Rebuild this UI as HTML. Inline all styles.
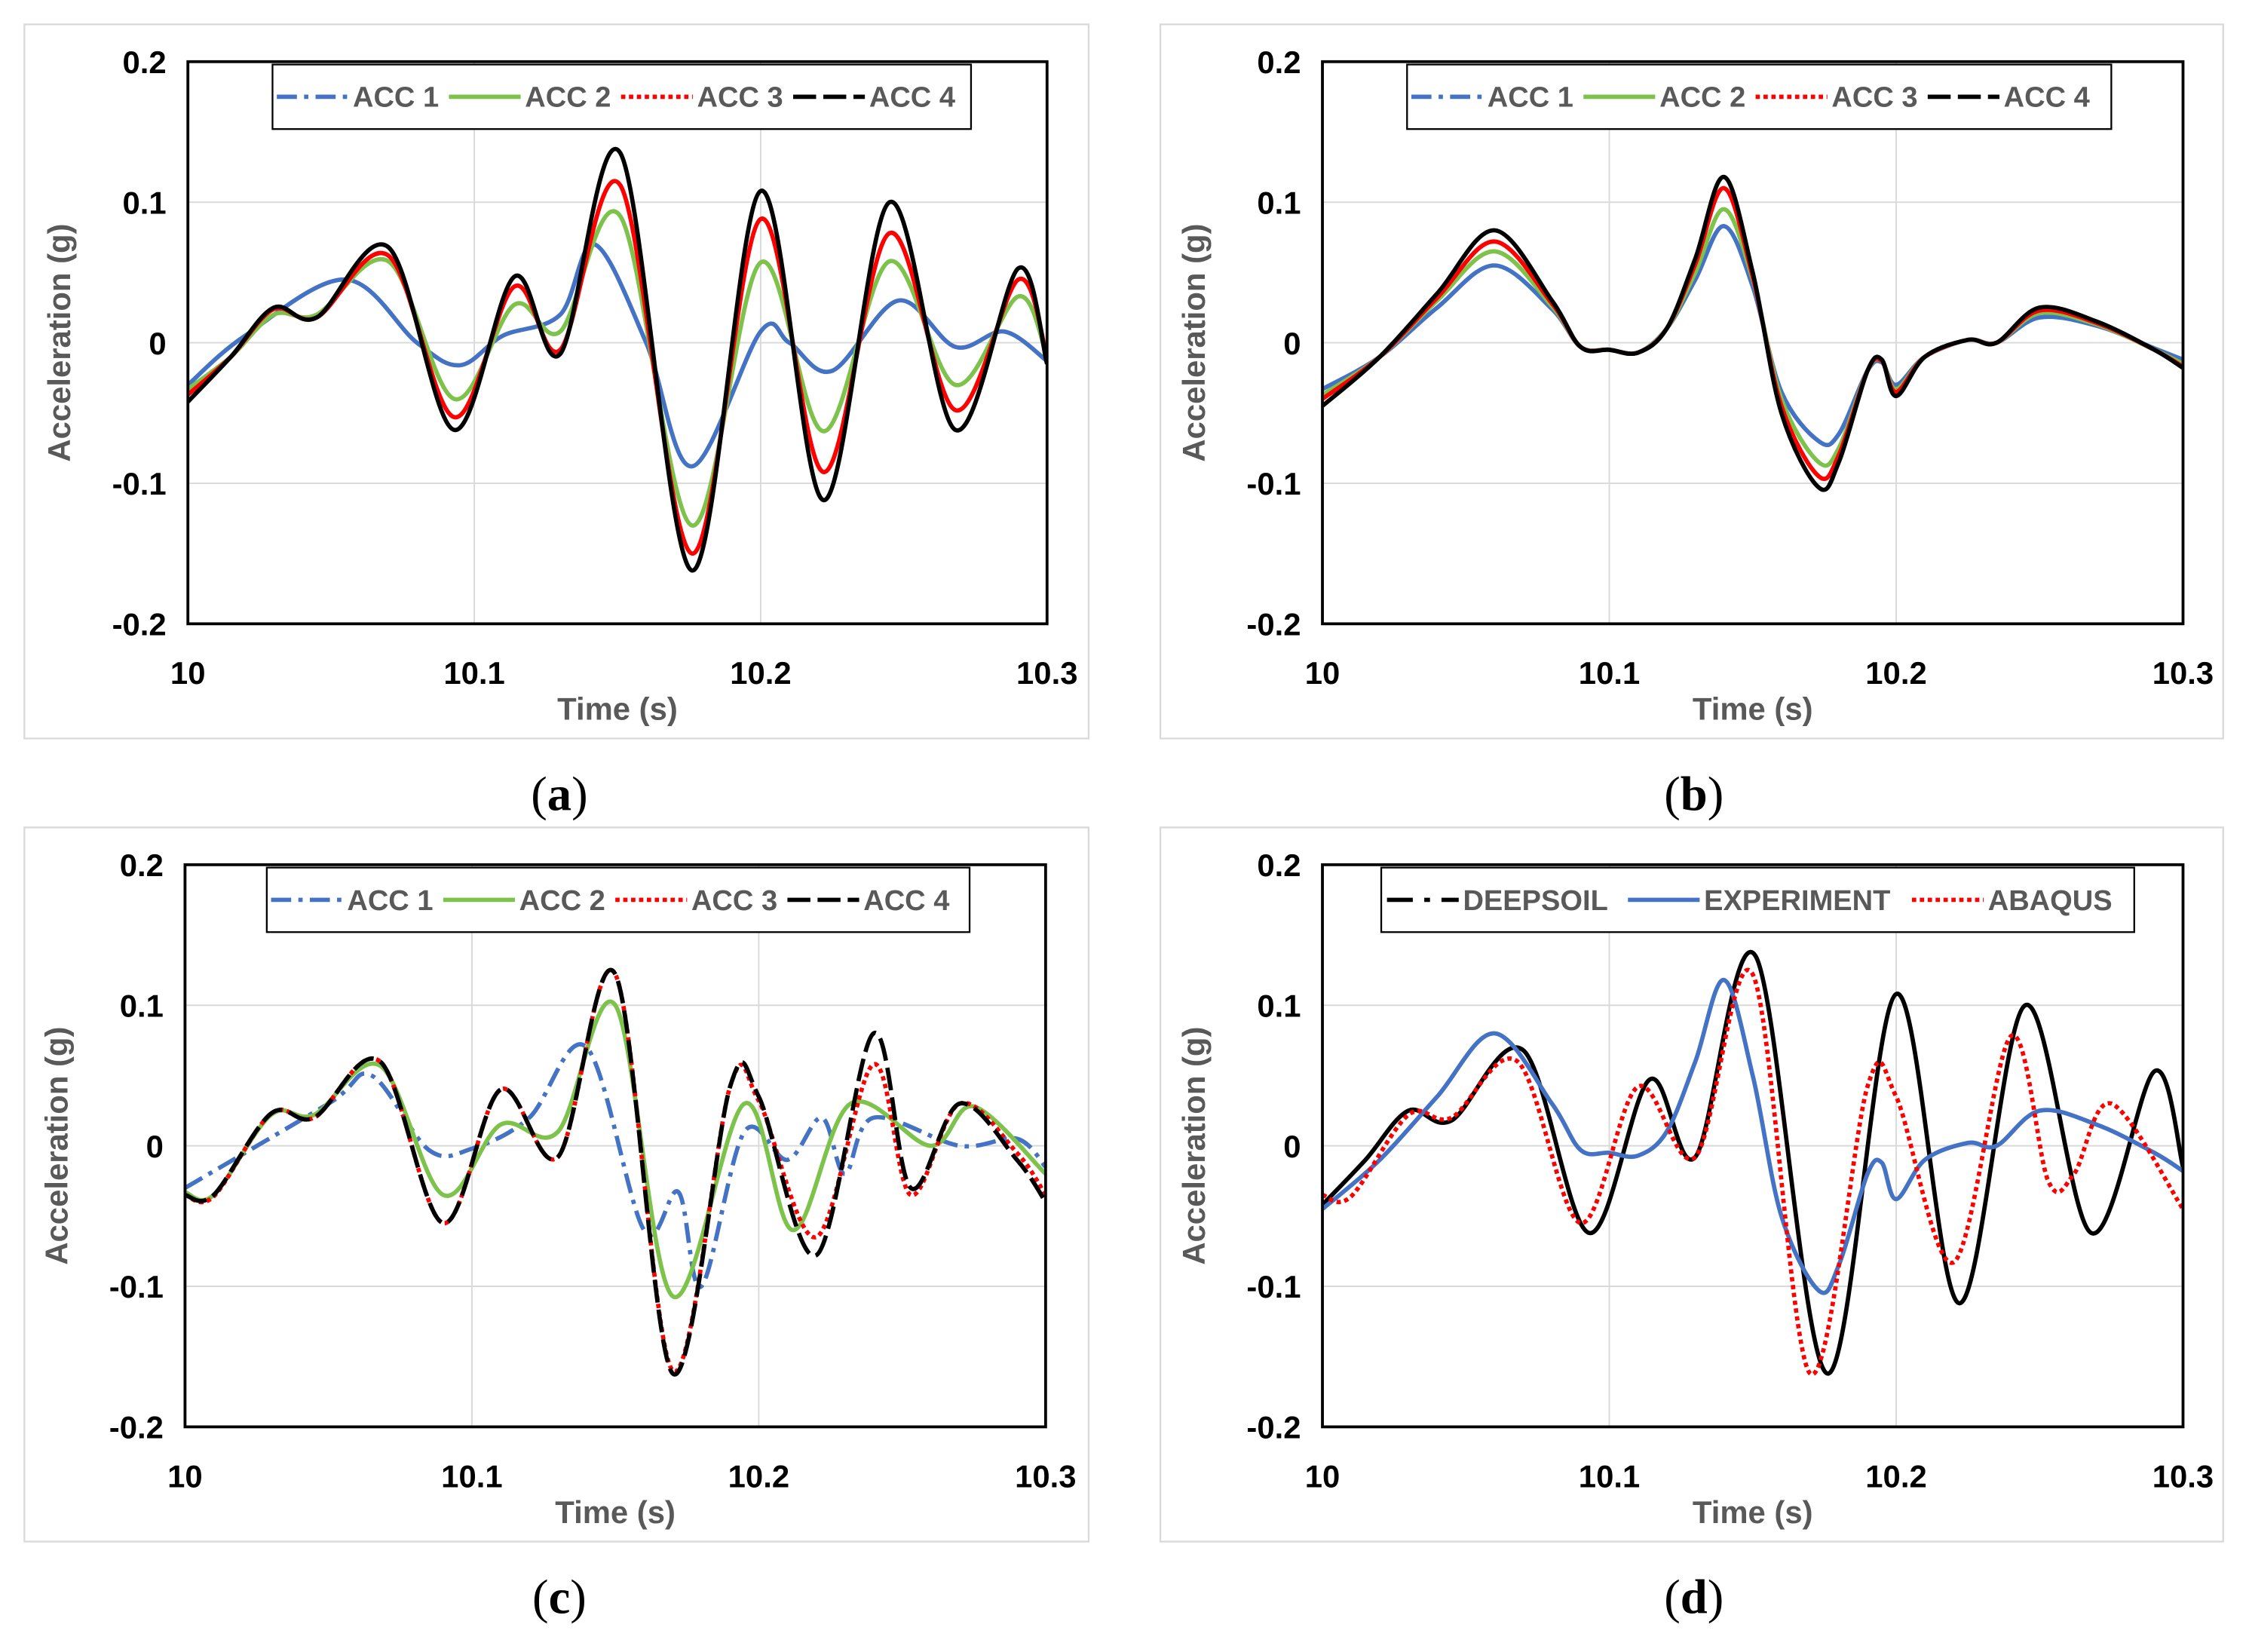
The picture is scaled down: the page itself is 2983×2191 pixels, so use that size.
<!DOCTYPE html>
<html><head><meta charset="utf-8">
<style>html,body{margin:0;padding:0;background:#fff}svg{display:block}</style></head>
<body>
<svg id="fig" width="2983" height="2191" viewBox="0 0 1568 1152" preserveAspectRatio="none" xmlns="http://www.w3.org/2000/svg" font-family="Liberation Sans, sans-serif"></svg>
<script>
// ---- data (times in s, acceleration in g) ----
const aT4=[10,10.015,10.03,10.045,10.07,10.093,10.114,10.13,10.151,10.176,10.2,10.222,10.245,10.268,10.29,10.3];
const aV4=[-0.042,-0.01,0.025,0.018,0.068,-0.062,0.047,-0.008,0.135,-0.162,0.108,-0.112,0.1,-0.062,0.053,-0.015];
const aV3=[-0.037,-0.01,0.024,0.018,0.062,-0.053,0.04,-0.005,0.112,-0.15,0.088,-0.092,0.078,-0.048,0.045,-0.01];
const aV2=[-0.033,-0.01,0.02,0.02,0.058,-0.04,0.027,0.008,0.09,-0.13,0.057,-0.063,0.058,-0.03,0.033,-0.01];
const aT1=[10,10.02,10.055,10.08,10.095,10.11,10.13,10.142,10.16,10.176,10.2,10.21,10.225,10.248,10.268,10.285,10.3];
const aV1=[-0.03,0.005,0.045,0.0,-0.016,0.005,0.02,0.07,0.0,-0.088,0.008,0.0,-0.02,0.03,-0.003,0.008,-0.013];

const bT=[10,10.02,10.04,10.06,10.08,10.09,10.1,10.11,10.12,10.13,10.14,10.15,10.16,10.173,10.18,10.19,10.195,10.2,10.21,10.225,10.235,10.25,10.27,10.29,10.3];
const bV4=[-0.045,-0.01,0.035,0.08,0.03,-0.003,-0.005,-0.007,0.01,0.06,0.118,0.05,-0.05,-0.103,-0.085,-0.02,-0.012,-0.038,-0.01,0.002,0.0,0.025,0.015,-0.005,-0.018];
const bV3=[-0.04,-0.01,0.032,0.072,0.028,-0.003,-0.005,-0.007,0.01,0.056,0.11,0.047,-0.045,-0.095,-0.08,-0.02,-0.013,-0.035,-0.01,0.002,0.0,0.023,0.014,-0.005,-0.017];
const bV2=[-0.037,-0.01,0.03,0.065,0.026,-0.003,-0.005,-0.007,0.01,0.05,0.095,0.045,-0.04,-0.085,-0.075,-0.02,-0.013,-0.033,-0.01,0.002,0.0,0.021,0.013,-0.005,-0.015];
const bV1=[-0.033,-0.01,0.025,0.055,0.024,-0.003,-0.005,-0.007,0.01,0.045,0.083,0.04,-0.035,-0.07,-0.065,-0.02,-0.014,-0.03,-0.01,0.002,0.0,0.018,0.012,-0.004,-0.012];

const cT4=[10,10.01,10.03,10.045,10.068,10.09,10.11,10.13,10.15,10.17,10.19,10.2,10.22,10.24,10.253,10.27,10.29,10.3];
const cV4=[-0.035,-0.035,0.023,0.02,0.06,-0.055,0.04,-0.008,0.122,-0.162,0.042,0.035,-0.078,0.08,-0.03,0.03,-0.01,-0.04];
const cV3=[-0.035,-0.036,0.023,0.02,0.06,-0.055,0.04,-0.008,0.122,-0.16,0.042,0.032,-0.065,0.058,-0.035,0.03,-0.005,-0.035];
const cT2=[10,10.01,10.03,10.045,10.068,10.09,10.11,10.13,10.15,10.17,10.195,10.212,10.232,10.26,10.275,10.3];
const cV2=[-0.033,-0.035,0.022,0.022,0.057,-0.035,0.015,0.01,0.1,-0.107,0.03,-0.06,0.03,0.0,0.028,-0.02];
const cT1=[10,10.05,10.065,10.085,10.1,10.12,10.14,10.16,10.172,10.18,10.195,10.21,10.222,10.23,10.24,10.27,10.29,10.3];
const cV1=[-0.03,0.03,0.05,-0.003,-0.002,0.02,0.07,-0.06,-0.033,-0.1,0.01,-0.01,0.02,-0.02,0.02,0.0,0.005,-0.015];

const dTa=[10,10.01,10.03,10.045,10.068,10.09,10.11,10.13,10.15,10.17,10.19,10.2,10.22,10.24,10.253,10.262,10.275,10.3];
const dVa=[-0.035,-0.036,0.022,0.02,0.06,-0.055,0.042,-0.008,0.122,-0.162,0.042,0.035,-0.083,0.078,-0.025,-0.02,0.03,-0.045];

const xTicks=["10","10.1","10.2","10.3"];
const yTicks=["0.2","0.1","0","-0.1","-0.2"];

const NS="http://www.w3.org/2000/svg";
const svg=document.getElementById('fig');
function mk(tag,attrs,parent){const e=document.createElementNS(NS,tag);for(const k in attrs)e.setAttribute(k,attrs[k]);(parent||svg).appendChild(e);return e;}

function smoothPath(pts){
  let d="M"+pts[0][0].toFixed(1)+","+pts[0][1].toFixed(1);
  for(let i=0;i<pts.length-1;i++){
    const p0=pts[Math.max(i-1,0)],p1=pts[i],p2=pts[i+1],p3=pts[Math.min(i+2,pts.length-1)];
    const c1=[p1[0]+(p2[0]-p0[0])/6,p1[1]+(p2[1]-p0[1])/6];
    const c2=[p2[0]-(p3[0]-p1[0])/6,p2[1]-(p3[1]-p1[1])/6];
    d+="C"+c1[0].toFixed(1)+","+c1[1].toFixed(1)+" "+c2[0].toFixed(1)+","+c2[1].toFixed(1)+" "+p2[0].toFixed(1)+","+p2[1].toFixed(1);
  }
  return d;
}

const STY={
  acc1:{stroke:"#4472C4",dash:"14,5,3,5"},
  acc1s:{stroke:"#4472C4",dash:""},
  acc2:{stroke:"#7DC24B",dash:""},
  acc3:{stroke:"#FF0000",dash:"3,2.5"},
  acc3s:{stroke:"#FF0000",dash:""},
  acc4:{stroke:"#000000",dash:"16,5"},
  acc4s:{stroke:"#000000",dash:""},
  deep:{stroke:"#000000",dash:""},
  deepL:{stroke:"#000000",dash:"18,8,4,8"},
  exp:{stroke:"#4472C4",dash:""},
  abq:{stroke:"#FF0000",dash:"3,2.5"}
};

function panel(id,box,plot,series,legend,label){
  const g=mk('g',{},svg);
  
  
  const ob=mk('rect',{x:box[0],y:box[1],width:box[2]-box[0],height:box[3]-box[1],fill:'#fff',stroke:'#d9d9d9','stroke-width':1.2},g);
  
  const [L,T,R,B]=plot;
  const xs=t=>L+(t-10)/0.3*(R-L);
  const ys=v=>T+(0.2-v)/0.4*(B-T);
  for(let i=1;i<3;i++){const gl=mk('line',{x1:xs(10+i*0.1),x2:xs(10+i*0.1),y1:T,y2:B,stroke:'#d9d9d9','stroke-width':1},g);}
  for(let i=1;i<4;i++){const gl=mk('line',{x1:L,x2:R,y1:ys(0.2-i*0.1),y2:ys(0.2-i*0.1),stroke:'#d9d9d9','stroke-width':1},g);}
  const clip=mk('clipPath',{id:'clip'+id},g);mk('rect',{x:L,y:T,width:R-L,height:B-T},clip);
  series.forEach(s=>{
    const pts=s.t.map((t,i)=>[xs(t),ys(s.v[i])]);
    const st=STY[s.style];
    const p=mk('path',{d:smoothPath(pts),fill:'none',stroke:st.stroke,'stroke-width':3,'stroke-dasharray':st.dash,'stroke-linejoin':'round','clip-path':'url(#clip'+id+')'},g);
    
    
  });
  const ax=mk('rect',{x:L,y:T,width:R-L,height:B-T,fill:'none',stroke:'#000','stroke-width':2},g);
  
  xTicks.forEach((lab,i)=>{const t=mk('text',{x:xs(10+i*0.1),y:B+42,'text-anchor':'middle','font-size':22,'font-weight':'bold',fill:'#000'},g);t.textContent=lab;});
  yTicks.forEach((lab,i)=>{const t=mk('text',{x:L-15,y:ys(0.2-i*0.1)+8,'text-anchor':'end','font-size':22,'font-weight':'bold',fill:'#000'},g);t.textContent=lab;});
  const xt=mk('text',{x:(L+R)/2,y:B+67,'text-anchor':'middle','font-size':22,'font-weight':'bold',fill:'#595959'},g);xt.textContent='Time (s)';
  
  const yt=mk('text',{x:0,y:0,transform:'translate('+(L-82)+','+((T+B)/2)+') rotate(-90)','text-anchor':'middle','font-size':22,'font-weight':'bold',fill:'#595959'},g);yt.textContent='Acceleration (g)';
  
  const lb=mk('rect',{x:legend.box[0],y:legend.box[1],width:legend.box[2]-legend.box[0],height:legend.box[3]-legend.box[1],fill:'#fff',stroke:'#000','stroke-width':1.2},g);
  
  const ly=(legend.box[1]+legend.box[3])/2;
  legend.items.forEach(it=>{
    const st=STY[it.style];
    const ln=mk('line',{x1:it.x,x2:it.x+50,y1:ly,y2:ly,stroke:st.stroke,'stroke-width':3,'stroke-dasharray':st.dash},g);
    
    const tx=mk('text',{x:it.x+53,y:ly+7,'font-size':20,'font-weight':'bold',fill:'#595959'},g);tx.textContent=it.label;
    
  });
  const pl=mk('text',{x:label[0],y:label[1],'text-anchor':'middle','font-size':34,'font-family':'Liberation Serif, serif',fill:'#000'},g);
  
  const a=mk('tspan',{},pl);a.textContent='(';
  const b=mk('tspan',{'font-weight':'bold'},pl);b.textContent=label[2];
  const c=mk('tspan',{},pl);c.textContent=')';
}

const accLegend=(box,x0)=>({box:box,items:[
  {x:x0,label:'ACC 1',style:'acc1'},{x:x0+120,label:'ACC 2',style:'acc2'},
  {x:x0+240,label:'ACC 3',style:'acc3'},{x:x0+360,label:'ACC 4',style:'acc4'}]});

panel('a',[17,17,759,515],[131,43,730,435],[
  {t:aT1,v:aV1,style:'acc1s',name:'acc1-line'},
  {t:aT4,v:aV2,style:'acc2',name:'acc2-line'},
  {t:aT4,v:aV3,style:'acc3s',name:'acc3-line'},
  {t:aT4,v:aV4,style:'acc4s',name:'acc4-line'}],
  accLegend([190,45,677,90],193),[390,565,'a']);

panel('b',[809,17,1550,515],[922,43,1522,435],[
  {t:bT,v:bV1,style:'acc1s',name:'acc1-line'},
  {t:bT,v:bV2,style:'acc2',name:'acc2-line'},
  {t:bT,v:bV3,style:'acc3s',name:'acc3-line'},
  {t:bT,v:bV4,style:'acc4s',name:'acc4-line'}],
  accLegend([981,45,1472,90],984),[1181,565,'b']);

panel('c',[17,577,759,1075],[129,603,729,995],[
  {t:cT1,v:cV1,style:'acc1',name:'acc1-line'},
  {t:cT2,v:cV2,style:'acc2',name:'acc2-line'},
  {t:cT4,v:cV3,style:'acc3',name:'acc3-line'},
  {t:cT4,v:cV4,style:'acc4',name:'acc4-line'}],
  accLegend([186,605,676,650],189),[390,1125,'c']);

panel('d',[809,577,1550,1075],[922,603,1522,995],[
  {t:aT4,v:aV4,style:'deep',name:'deepsoil-line'},
  {t:bT,v:bV4,style:'exp',name:'experiment-line'},
  {t:dTa,v:dVa,style:'abq',name:'abaqus-line'}],
  {box:[963,605,1488,650],items:[
    {x:967,label:'DEEPSOIL',style:'deepL'},
    {x:1135,label:'EXPERIMENT',style:'exp'},
    {x:1333,label:'ABAQUS',style:'abq'}]},[1181,1125,'d']);
</script>
</body></html>
